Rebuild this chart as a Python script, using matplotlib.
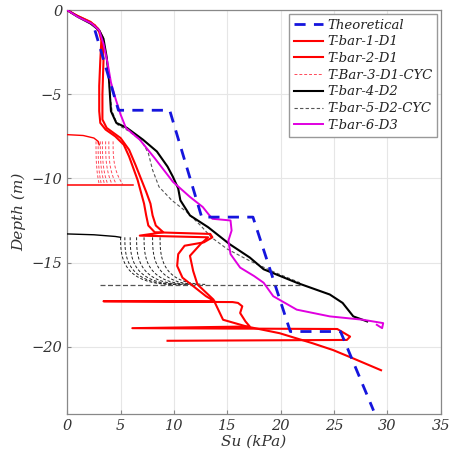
import numpy as np
import matplotlib
matplotlib.use("Agg")
import matplotlib.pyplot as plt

# ---------------- data (Su in kPa, depth in m) ----------------
theo_su = [2.6, 4.8, 9.6, 12.6, 17.4, 20.9, 25.6, 28.7]
theo_d = [-1.2, -5.95, -5.95, -12.3, -12.3, -19.1, -19.1, -23.8]

t1_su = [0, 0.8, 1.8, 2.6, 3.0, 3.2, 3.1, 3.0, 3.0, 3.1, 3.6, 4.5, 5.3, 5.8, 6.2, 6.6, 6.9, 7.2, 7.4,
         7.6, 8.2, 13.4, 13.6, 12.8, 11.0, 10.4, 10.3, 10.8, 12.0, 13.0, 13.8, 3.4, 15.5, 16.0, 16.4,
         16.2, 16.7, 17.1, 6.1, 25.3, 26.5, 26.2, 9.4]
t1_d = [0, -0.3, -0.6, -0.9, -1.3, -1.8, -3.0, -4.5, -6.0, -6.7, -7.1, -7.5, -8.0, -8.7, -9.4, -10.1,
        -10.8, -11.5, -12.2, -12.8, -13.2, -13.3, -13.5, -13.8, -14.0, -14.5, -15.2, -15.9, -16.5,
        -17.0, -17.3, -17.3, -17.35, -17.4, -17.6, -18.0, -18.5, -18.8, -18.9, -18.95, -19.4, -19.6,
        -19.65]

t2_su = [0, 1.0, 2.2, 2.9, 3.3, 3.4, 3.3, 3.3, 3.7, 5.0, 5.8, 6.4, 6.9, 7.4, 7.8, 8.0, 8.3, 9.0, 6.8,
         13.2, 12.5, 11.5, 11.8, 12.2, 13.7, 14.6, 16.8, 19.9, 23.0, 24.9, 26.8, 29.4]
t2_d = [0, -0.35, -0.7, -1.1, -1.6, -3.0, -5.0, -6.5, -7.0, -7.6, -8.3, -9.2, -10.0, -10.8, -11.5,
        -12.2, -12.8, -13.2, -13.4, -13.5, -13.9, -14.6, -15.5, -16.3, -17.2, -18.4, -18.8, -19.2,
        -19.8, -20.2, -20.7, -21.4]

# cyclic test 3: entry / exit lines and cycles
t3_entry_su = [0, 1.5, 2.5, 2.9, 3.0]
t3_entry_d = [-7.4, -7.45, -7.6, -7.8, -8.0]
t3_exit_su = [0, 6.2]
t3_exit_d = [-10.4, -10.4]
t3_top_su = [2.7, 2.9, 3.1, 3.3, 3.6, 3.9, 4.3]
t3_bot_su = [3.0, 3.2, 3.5, 3.8, 4.2, 4.6, 5.2]
t3_top_d = -7.8
t3_bot_d = -10.35

t4_su = [0, 1.0, 2.2, 3.0, 3.4, 3.7, 3.9, 4.0, 4.1, 4.6, 5.6, 7.1, 8.4, 9.4, 9.9, 10.4, 10.6, 11.5,
         13.2, 15.2, 17.1, 18.4, 21.5, 24.6, 25.8, 26.8, 28.1]
t4_d = [0, -0.4, -0.8, -1.2, -1.7, -2.8, -4.0, -5.0, -6.0, -6.7, -7.0, -7.7, -8.4, -9.3, -9.9, -10.6,
        -11.3, -12.2, -12.9, -13.9, -14.7, -15.4, -16.2, -16.9, -17.4, -18.2, -18.5]
t4_entry_su = [0, 2.5, 4.5, 5.0]
t4_entry_d = [-13.3, -13.35, -13.45, -13.5]

t5_su = [0, 1.0, 2.2, 3.0, 3.4, 3.7, 3.9, 4.0, 4.2, 4.7, 5.8, 7.0, 7.6, 8.0, 8.6, 9.8, 11.2, 12.5,
         13.5, 15.0, 17.1, 19.5, 21.8]
t5_d = [0, -0.4, -0.8, -1.2, -1.7, -2.8, -4.0, -5.0, -6.0, -6.8, -7.2, -7.8, -8.5, -9.5, -10.5,
        -11.3, -12.0, -12.8, -13.5, -14.2, -14.9, -15.6, -16.2]
t5_exit_su = [21.8, 3.0]
t5_exit_d = [-16.35, -16.35]
t5_top_su = [5.0, 5.4, 5.9, 6.5, 7.2, 8.0, 8.7]
t5_bot_su = [10.0, 10.3, 10.7, 11.2, 11.8, 12.4, 13.1]
t5_top_d = -13.5
t5_bot_d = -16.3

t6_su = [0, 1.0, 2.3, 3.0, 3.4, 3.8, 4.1, 4.5, 5.0, 5.5, 6.8, 8.2, 9.9, 11.5, 12.7, 13.2, 13.6, 15.3,
         15.4, 15.1, 15.3, 16.2, 17.5, 18.4, 19.3, 21.5, 24.6, 27.7, 29.6, 29.5, 29.0]
t6_d = [0, -0.4, -0.8, -1.2, -2.0, -3.2, -4.3, -5.2, -6.2, -7.0, -7.7, -8.8, -10.2, -11.1, -11.7,
        -12.1, -12.4, -12.5, -13.1, -13.7, -14.5, -15.3, -15.8, -16.2, -17.0, -17.8, -18.2, -18.4,
        -18.6, -18.9, -18.7]

# ---------------- plotting ----------------
FONT = "DejaVu Serif"
plt.rcParams["font.family"] = FONT
plt.rcParams["font.style"] = "italic"

fig = plt.figure(figsize=(4.54, 4.61), dpi=100)
ax = fig.add_axes([0.148, 0.102, 0.823, 0.876])

red = "#ff0000"
ax.plot(t1_su, t1_d, color=red, lw=1.5, label="T-bar-1-D1", zorder=3)
ax.plot(t2_su, t2_d, color=red, lw=1.5, label="T-bar-2-D1", zorder=3)

# cyclic test 3
ax.plot(t3_entry_su, t3_entry_d, color=red, lw=1.0, zorder=3)
ax.plot(t3_exit_su, t3_exit_d, color=red, lw=1.1, zorder=3)
for i, (a, b) in enumerate(zip(t3_top_su, t3_bot_su)):
    s = np.linspace(0, 1, 20)
    x = a + (b - a) * s ** 3
    y = t3_top_d + (t3_bot_d - t3_top_d) * s
    ax.plot(x, y, color="#ff4a5a", lw=0.7, ls=(0, (3, 2)),
            label="T-Bar-3-D1-CYC" if i == 0 else None, zorder=2)

ax.plot(t4_su, t4_d, color="black", lw=1.5, label="T-bar-4-D2", zorder=3)
ax.plot(t4_entry_su, t4_entry_d, color="black", lw=1.0, zorder=3)

grey = "#555555"
ax.plot(t5_su, t5_d, color=grey, lw=0.8, ls=(0, (3, 2)), label="T-bar-5-D2-CYC", zorder=2)
ax.plot(t5_exit_su, t5_exit_d, color=grey, lw=0.9, ls=(0, (4, 2)), zorder=2)
for a, b in zip(t5_top_su, t5_bot_su):
    s = np.linspace(0, 1, 30)
    x = a + (b - a) * s ** 2.2
    y = t5_top_d + (t5_bot_d - t5_top_d) * np.sin(s * np.pi / 2) ** 0.8
    ax.plot(x, y, color="#222222", lw=0.7, ls=(0, (3, 2)), zorder=2)

ax.plot(t6_su, t6_d, color="#e000e0", lw=1.4, label="T-bar-6-D3", zorder=3)

ax.plot(theo_su, theo_d, color="#1515dd", lw=2.0, ls=(0, (4, 3)), label="Theoretical", zorder=4)

ax.set_xlim(0, 35)
ax.set_ylim(-24, 0)
ax.set_xticks([0, 5, 10, 15, 20, 25, 30, 35])
ax.set_yticks([0, -5, -10, -15, -20])
ax.grid(True, color="#e6e6e6", lw=0.8)
ax.set_axisbelow(True)
for sp in ax.spines.values():
    sp.set_color("#888888")
    sp.set_linewidth(0.9)
ax.tick_params(colors="#888888", labelcolor="#333333", labelsize=10.5, direction="in", length=3)
for lab in ax.get_xticklabels() + ax.get_yticklabels():
    lab.set_fontstyle("italic")

ax.set_xlabel("Su (kPa)", fontsize=11, color="#333333", style="italic", labelpad=1)
ax.set_ylabel("Depth (m)", fontsize=11, color="#333333", style="italic", labelpad=4)

handles, labels = ax.get_legend_handles_labels()
order = ["Theoretical", "T-bar-1-D1", "T-bar-2-D1", "T-Bar-3-D1-CYC", "T-bar-4-D2",
         "T-bar-5-D2-CYC", "T-bar-6-D3"]
hmap = dict(zip(labels, handles))
leg = ax.legend([hmap[k] for k in order], order, loc="upper right",
                frameon=True, fancybox=False, edgecolor="#999999", framealpha=1,
                handlelength=2.2, handletextpad=0.3, labelspacing=0.28,
                borderpad=0.35, borderaxespad=0.3,
                prop={"family": FONT, "style": "italic", "size": 9.5})
for t in leg.get_texts():
    t.set_color("#222222")

fig.savefig("out.png", dpi=100)
